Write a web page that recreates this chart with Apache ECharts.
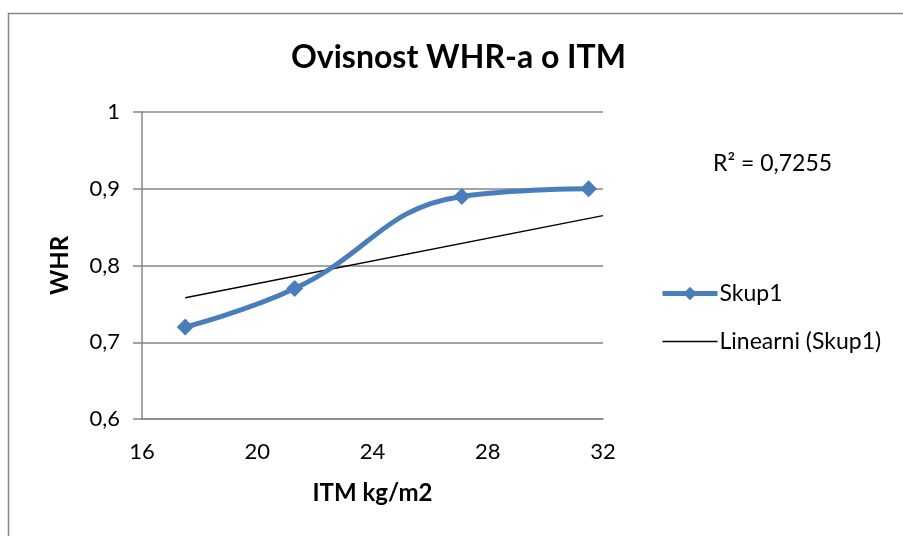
<!DOCTYPE html>
<html>
<head>
<meta charset="utf-8">
<script src="https://cdn.jsdelivr.net/npm/echarts@6/dist/echarts.min.js"></script>
<style>
  html, body { margin: 0; padding: 0; background: #fff; }
  #main { width: 903px; height: 536px; }
</style>
</head>
<body>
<div id="main"></div>
<script>
// podaci očitani sa slike
var itm = [17.5, 21.3, 27.1, 31.5];
var whr = [0.72, 0.77, 0.89, 0.90];
// krajnje točke linearnog trenda (kako su nacrtane)
var trendX = [17.5, 32];
var trendY = [0.758, 0.865];
var r2Text = 'R² = 0,7255';

var FONT = 'Lato';
var GRAY = '#868686';
var BLUE = '#4A7EBB';

var myChart = echarts.init(document.getElementById('main'));

function pairs(xs, ys) {
    var out = [];
    for (var i = 0; i < xs.length; i++) out.push([xs[i], ys[i]]);
    return out;
}

function comma(v) {
    return String(+v.toFixed(1)).replace('.', ',');
}

var option = {
    animation: false,
    textStyle: { fontFamily: FONT },
    title: {
        text: 'Ovisnost WHR-a o ITM',
        left: 286,
        top: 37,
        textStyle: { fontFamily: FONT, fontSize: 32, fontWeight: 'bold', color: '#000' }
    },
    legend: {
        orient: 'vertical',
        left: 655,
        top: 277,
        itemWidth: 55,
        itemHeight: 17,
        itemGap: 25,
        textStyle: { fontFamily: FONT, fontSize: 23, color: '#000', padding: [0, 0, 0, -3] },
        data: [
            { name: 'Skup1', lineStyle: { width: 5 } },
            { name: 'Linearni (Skup1)', itemStyle: { opacity: 0 }, lineStyle: { width: 1.5 } }
        ]
    },
    grid: { left: 142, right: 300, top: 112, bottom: 117 },
    xAxis: {
        type: 'value',
        min: 16,
        max: 32,
        interval: 4,
        name: 'ITM kg/m2',
        nameLocation: 'middle',
        nameGap: 62,
        nameTextStyle: { fontFamily: FONT, fontSize: 24, fontWeight: 'bold', color: '#000' },
        axisLine: { show: true, lineStyle: { color: GRAY, width: 1.5 } },
        axisTick: { show: false },
        axisLabel: { fontSize: 22, color: '#000', margin: 22 },
        splitLine: { show: false }
    },
    yAxis: {
        type: 'value',
        min: 0.6,
        max: 1,
        interval: 0.1,
        name: 'WHR',
        nameLocation: 'middle',
        nameGap: 70,
        nameRotate: 90,
        nameTextStyle: { fontFamily: FONT, fontSize: 24, fontWeight: 'bold', color: '#000' },
        axisLine: { show: true, lineStyle: { color: GRAY, width: 1.5 } },
        axisTick: { show: true, inside: false, length: 9, lineStyle: { color: GRAY, width: 1.5 } },
        axisLabel: { fontSize: 22, color: '#000', margin: 22, formatter: comma },
        splitLine: { show: true, lineStyle: { color: GRAY, width: 1.5 } }
    },
    graphic: [
        {
            type: 'rect',
            shape: { x: 8.5, y: 13.5, width: 1000, height: 600 },
            style: { fill: 'none', stroke: GRAY, lineWidth: 1.5 },
            silent: true
        },
        {
            type: 'text',
            left: 713,
            top: 152,
            style: { text: r2Text, fontFamily: FONT, fontSize: 23, fill: '#000' }
        }
    ],
    series: [
        {
            name: 'Skup1',
            type: 'line',
            data: pairs(itm, whr),
            smooth: 0.45,
            symbol: 'diamond',
            symbolSize: 17,
            lineStyle: { color: BLUE, width: 5 },
            itemStyle: { color: BLUE },
            z: 3
        },
        {
            name: 'Linearni (Skup1)',
            type: 'line',
            data: pairs(trendX, trendY),
            symbol: 'none',
            lineStyle: { color: '#000', width: 1.5 },
            itemStyle: { color: '#000' },
            z: 2
        }
    ]
};

myChart.setOption(option);
</script>
</body>
</html>
